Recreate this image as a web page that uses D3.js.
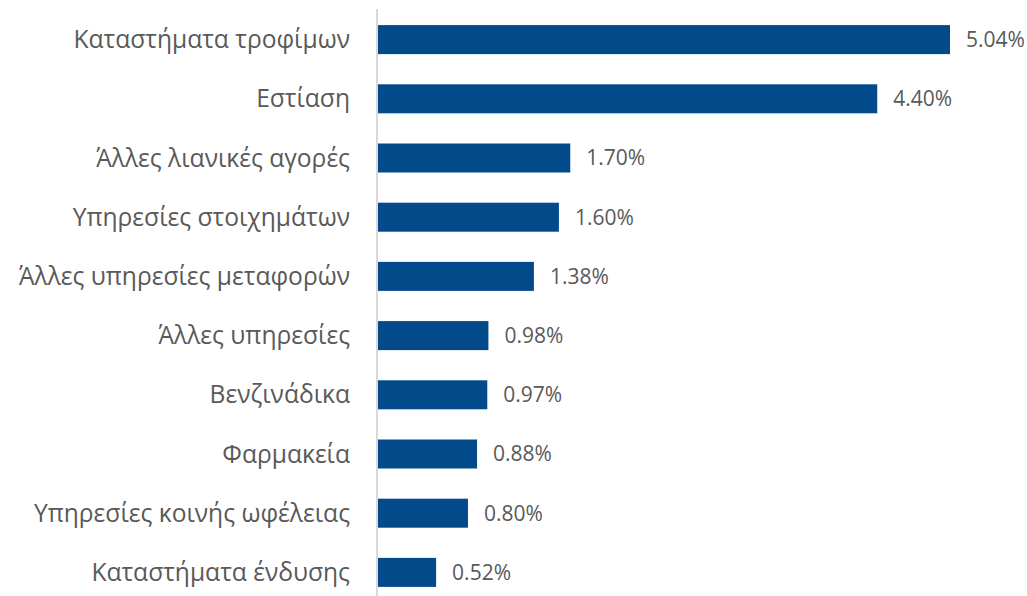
<!DOCTYPE html>
<html>
<head>
<meta charset="utf-8">
<script src="https://cdn.jsdelivr.net/npm/d3@7/dist/d3.min.js"></script>
<style>
  html, body { margin: 0; padding: 0; background: #ffffff; }
  svg { display: block; }
  text { font-family: "Open Sans", "Noto Sans", sans-serif; fill: #595959; }
</style>
</head>
<body>
<svg id="chart" width="1027" height="596"></svg>
<script>
const categories = [
  "Καταστήματα τροφίμων",
  "Εστίαση",
  "Άλλες λιανικές αγορές",
  "Υπηρεσίες στοιχημάτων",
  "Άλλες υπηρεσίες μεταφορών",
  "Άλλες υπηρεσίες",
  "Βενζινάδικα",
  "Φαρμακεία",
  "Υπηρεσίες κοινής ωφέλειας",
  "Καταστήματα ένδυσης"
];
const values = [5.04, 4.40, 1.70, 1.60, 1.38, 0.98, 0.97, 0.88, 0.80, 0.52];
const valueLabels = ["5.04%", "4.40%", "1.70%", "1.60%", "1.38%", "0.98%", "0.97%", "0.88%", "0.80%", "0.52%"];

const data = categories.map((c, i) => ({ cat: c, val: values[i], label: valueLabels[i] }));

const svg = d3.select("#chart");
const x0 = 377;

const x = d3.scaleLinear().domain([0, 5.04]).range([x0, 950]);
const y = d3.scaleBand().domain(categories).range([10, 602]).paddingInner(0.51).paddingOuter(0.255);

svg.selectAll("rect.bar")
  .data(data)
  .enter().append("rect")
  .attr("class", "bar")
  .attr("x", x(0))
  .attr("y", d => y(d.cat))
  .attr("width", d => x(d.val) - x(0))
  .attr("height", y.bandwidth())
  .attr("fill", "#034a8a");

// category axis
const yAxis = d3.axisLeft(y).tickSize(0).tickPadding(27);
const gy = svg.append("g").attr("transform", `translate(${x0},0)`).call(yAxis);
gy.select(".domain").remove();
gy.selectAll("text")
  .style("font-size", "24.6px")
  .style("font-family", "'Open Sans', 'Noto Sans', sans-serif")
  .attr("fill", "#595959")
  .attr("dy", "0.35em");

svg.append("line")
  .attr("x1", x0).attr("x2", x0)
  .attr("y1", 9).attr("y2", 596)
  .attr("stroke", "#d9d9d9").attr("stroke-width", 2);

svg.selectAll("text.val")
  .data(data)
  .enter().append("text")
  .attr("class", "val")
  .attr("x", d => x(d.val) + 16)
  .attr("y", d => y(d.cat) + y.bandwidth() / 2)
  .attr("dy", "0.35em")
  .style("font-size", "21px")
  .text(d => d.label);
</script>
</body>
</html>
